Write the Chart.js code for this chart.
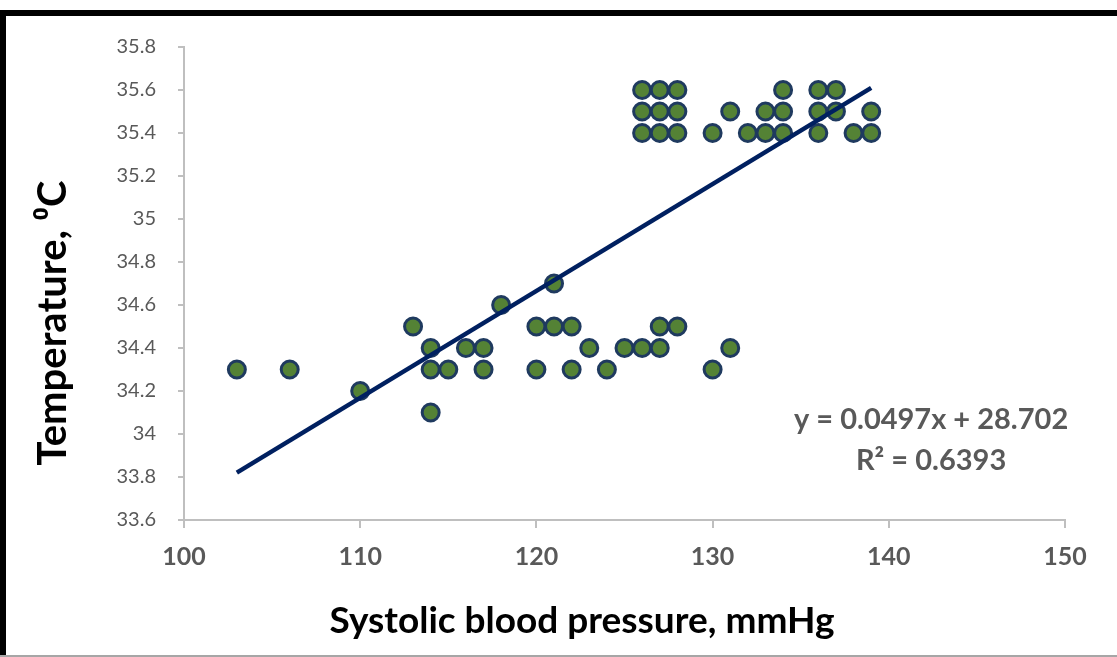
<!DOCTYPE html>
<html>
<head>
    <title>Temperature vs systolic blood pressure</title>
    <script src="https://cdn.jsdelivr.net/npm/chart.js"></script>
    <style>
        html, body { margin: 0; padding: 0; background: #fff; }
        #wrap { width: 1117px; height: 657px; }
    </style>
</head>
<body>
    <div id="wrap"><canvas id="myChart" width="1117" height="657"></canvas></div>
    <script>
    // systolic blood pressure (mmHg) and temperature (C)
    const pressure = [103, 106, 110, 113, 114, 114, 114, 115, 116, 117, 117, 118, 120, 120,
        121, 121, 122, 122, 123, 124, 125, 126, 127, 127, 128, 130, 131,
        126, 126, 126, 127, 127, 127, 128, 128, 128, 130, 131, 132, 133, 133,
        134, 134, 134, 136, 136, 136, 137, 137, 138, 139, 139];
    const temperature = [34.3, 34.3, 34.2, 34.5, 34.4, 34.3, 34.1, 34.3, 34.4, 34.4, 34.3, 34.6, 34.5, 34.3,
        34.5, 34.7, 34.5, 34.3, 34.4, 34.3, 34.4, 34.4, 34.4, 34.5, 34.5, 34.3, 34.4,
        35.4, 35.5, 35.6, 35.4, 35.5, 35.6, 35.4, 35.5, 35.6, 35.4, 35.5, 35.4, 35.4, 35.5,
        35.4, 35.5, 35.6, 35.4, 35.5, 35.6, 35.5, 35.6, 35.4, 35.4, 35.5];

    // linear trendline ends, as drawn
    const trendX = [103, 139];
    const trendY = [33.82, 35.61];
    const trendLabels = ['y = 0.0497x + 28.702', 'R\u00B2 = 0.6393'];

    const xTicks = [100, 110, 120, 130, 140, 150];
    const yTicks = [33.6, 33.8, 34, 34.2, 34.4, 34.6, 34.8, 35, 35.2, 35.4, 35.6, 35.8];
    const xTitle = 'Systolic blood pressure, mmHg';
    const yTitle = 'Temperature, \u2070C';

    const FONT = "Lato, 'Open Sans', 'Liberation Sans', sans-serif";

    // frame, axis titles (they sit off-centre in the original) and the trend equation
    const extras = {
        id: 'extras',
        afterDraw(chart) {
            const c = chart.ctx;
            c.save();
            c.fillStyle = '#000';
            c.fillRect(0, 10, 1117, 6);
            c.fillRect(0, 10, 6, 647);
            c.fillStyle = '#a6a6a6';
            c.fillRect(0, 655, 1117, 2);

            c.textAlign = 'center';
            c.textBaseline = 'middle';
            c.fillStyle = '#000';
            c.font = 'bold 37px ' + FONT;
            c.fillText(xTitle, 582, 621);
            c.save();
            c.translate(53, 323);
            c.rotate(-Math.PI / 2);
            c.font = 'bold 40px ' + FONT;
            c.fillText(yTitle, 0, 0);
            c.restore();

            const xs = chart.scales.x, ys = chart.scales.y;
            c.fillStyle = '#595959';
            c.font = 'bold 29px ' + FONT;
            c.fillText(trendLabels[0], xs.getPixelForValue(142.4), ys.getPixelForValue(34.065));
            c.fillText(trendLabels[1], xs.getPixelForValue(142.4), ys.getPixelForValue(33.875));
            c.restore();
        }
    };

    const ctx = document.getElementById('myChart').getContext('2d');
    const myChart = new Chart(ctx, {
        type: 'scatter',
        data: {
            datasets: [{
                type: 'line',
                label: 'Linear trend',
                data: trendX.map((x, i) => ({ x: x, y: trendY[i] })),
                borderColor: '#002060',
                borderWidth: 4.5,
                pointRadius: 0,
                fill: false,
                order: 0
            }, {
                label: 'Temperature',
                data: pressure.map((x, i) => ({ x: x, y: temperature[i] })),
                backgroundColor: '#548235',
                borderColor: '#1f3a5f',
                borderWidth: 3,
                pointRadius: 8.5,
                order: 1
            }]
        },
        options: {
            responsive: false,
            animation: false,
            layout: { padding: { left: 28, right: 52, top: 47, bottom: 0 } },
            plugins: { legend: { display: false }, tooltip: { enabled: false } },
            scales: {
                x: {
                    type: 'linear',
                    min: 100, max: 150,
                    afterBuildTicks: s => { s.ticks = xTicks.map(v => ({ value: v })); },
                    afterFit: s => { s.height = 137; },
                    grid: { drawOnChartArea: false, tickLength: 8, tickColor: '#bfbfbf', lineWidth: 2 },
                    border: { color: '#bfbfbf', width: 2 },
                    ticks: { color: '#595959', padding: 14, font: { family: FONT, size: 25, weight: 'bold' } }
                },
                y: {
                    min: 33.6, max: 35.8,
                    afterBuildTicks: s => { s.ticks = yTicks.map(v => ({ value: v })); },
                    afterFit: s => { s.width = 156; },
                    grid: { drawOnChartArea: false, tickLength: 6, tickColor: '#bfbfbf', lineWidth: 2 },
                    border: { color: '#bfbfbf', width: 2 },
                    ticks: {
                        color: '#595959', padding: 22,
                        font: { family: FONT, size: 20 },
                        callback: v => String(v)
                    }
                }
            }
        },
        plugins: [extras]
    });
    </script>
</body>
</html>
